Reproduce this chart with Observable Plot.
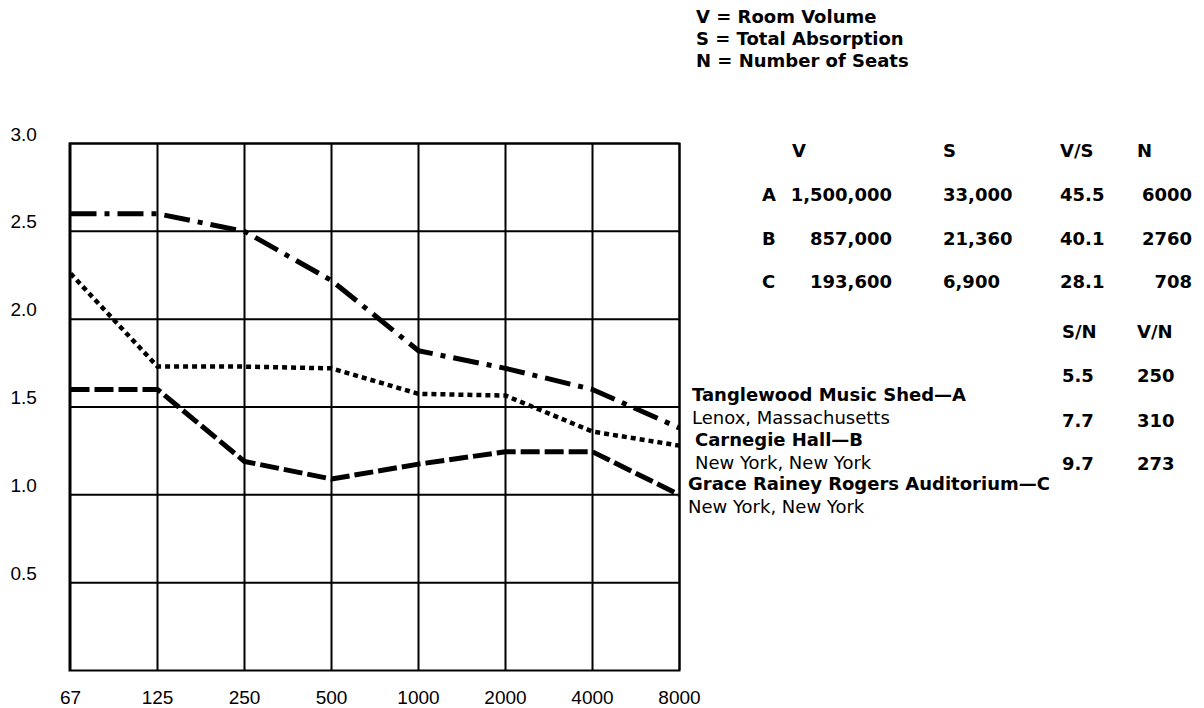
<!DOCTYPE html>
<html><head><meta charset="utf-8">
<script src="https://cdn.jsdelivr.net/npm/d3@7"></script>
<script src="https://cdn.jsdelivr.net/npm/@observablehq/plot@0.6"></script>
<style>
body{margin:0;background:#fff;}
#wrap{position:relative;width:1204px;height:708px;overflow:hidden;background:#fff;}
#wrap svg{position:absolute;left:0;top:0;}
.t{position:absolute;white-space:nowrap;font-size:18px;line-height:18px;color:#000;}
.b{font-family:"DejaVu Sans";font-weight:bold;}
.r{font-family:"DejaVu Sans";font-weight:normal;}
</style></head><body><div id="wrap"></div>
<script>
// ---- data ----
const frequencies = ["67","125","250","500","1000","2000","4000","8000"];
const tanglewood = [2.6, 2.6, 2.5, 2.22, 1.82, 1.72, 1.60, 1.38];
const carnegie   = [2.26, 1.73, 1.73, 1.72, 1.575, 1.565, 1.36, 1.28];
const grace      = [1.60, 1.60, 1.19, 1.09, 1.175, 1.245, 1.245, 1.0];
const yTicks = [0.5, 1.0, 1.5, 2.0, 2.5, 3.0];
const definitions = ["V = Room Volume", "S = Total Absorption", "N = Number of Seats"];
const hallIds = ["A", "B", "C"];
const volume = [1500000, 857000, 193600];
const absorption = [33000, 21360, 6900];
const volPerAbs = [45.5, 40.1, 28.1];
const seats = [6000, 2760, 708];
const absPerSeat = [5.5, 7.7, 9.7];
const volPerSeat = [250, 310, 273];
const hallNames = ["Tanglewood Music Shed—A", "Carnegie Hall—B", "Grace Rainey Rogers Auditorium—C"];
const hallPlaces = ["Lenox, Massachusetts", "New York, New York", "New York, New York"];

// ---- chart ----
const series = [
  {values: tanglewood, dash: "26,8,5,8", width: 5},
  {values: carnegie, dash: "5,4", width: 4.5},
  {values: grace, dash: "19,5", width: 5}
];
const lineMarks = series.map(s => Plot.line(s.values.map((v, i) => ({f: frequencies[i], v})), {
  x: "f", y: "v", stroke: "#000", strokeWidth: s.width, strokeDasharray: s.dash, strokeLinecap: "butt"
}));

const chart = Plot.plot({
  width: 1204, height: 708,
  marginLeft: 69, marginRight: 525, marginTop: 143, marginBottom: 38,
  style: {fontFamily: "Liberation Sans", fontSize: "19px", color: "#000", background: "transparent"},
  x: {type: "point", domain: frequencies, padding: 0, label: null},
  y: {domain: [0, 3], label: null},
  marks: [
    Plot.gridX(frequencies, {stroke: "#000", strokeOpacity: 1, strokeWidth: 2}),
    Plot.gridY(yTicks, {stroke: "#000", strokeOpacity: 1, strokeWidth: 2}),
    Plot.frame({stroke: "#000", strokeWidth: 2}),
    Plot.axisX({tickSize: 0, tickPadding: 20, fontSize: "19px"}),
    Plot.axisY(yTicks, {tickSize: 0, tickPadding: 0, textAnchor: "start", dx: -59, dy: -9, fontSize: "19px", tickFormat: d3.format(".1f")}),
    ...lineMarks
  ]
});
const wrap = document.getElementById("wrap");
wrap.appendChild(chart);

// ---- text annotations (table and legend) ----
function put(text, cls, base, left, right) {
  const d = document.createElement("div");
  d.className = "t " + cls;
  d.textContent = text;
  d.style.top = (base - 15) + "px";
  if (left != null) d.style.left = left + "px";
  if (right != null) { d.style.right = (1204 - right) + "px"; d.style.textAlign = "right"; }
  wrap.appendChild(d);
}
const comma = d3.format(",");
definitions.forEach((t, i) => put(t, "b", 23 + i * 22, 696));
put("V", "b", 157, 792); put("S", "b", 157, 943); put("V/S", "b", 157, 1060); put("N", "b", 157, 1137);
const rowBase = [201, 245, 288];
hallIds.forEach((h, i) => {
  put(h, "b", rowBase[i], 762);
  put(comma(volume[i]), "b", rowBase[i], null, 892);
  put(comma(absorption[i]), "b", rowBase[i], 943);
  put(volPerAbs[i].toFixed(1), "b", rowBase[i], 1060);
  put(String(seats[i]), "b", rowBase[i], null, 1192);
});
put("S/N", "b", 338, 1062); put("V/N", "b", 338, 1137);
const ratioBase = [382, 427, 470];
hallIds.forEach((h, i) => {
  put(absPerSeat[i].toFixed(1), "b", ratioBase[i], 1062);
  put(String(volPerSeat[i]), "b", ratioBase[i], 1137);
});
const legLeft = [692, 695, 688];
const legBase = [401, 446, 490];
hallNames.forEach((n, i) => {
  put(n, "b", legBase[i], legLeft[i]);
  put(hallPlaces[i], "r", legBase[i] + 22.5, legLeft[i]);
});
</script></body></html>
